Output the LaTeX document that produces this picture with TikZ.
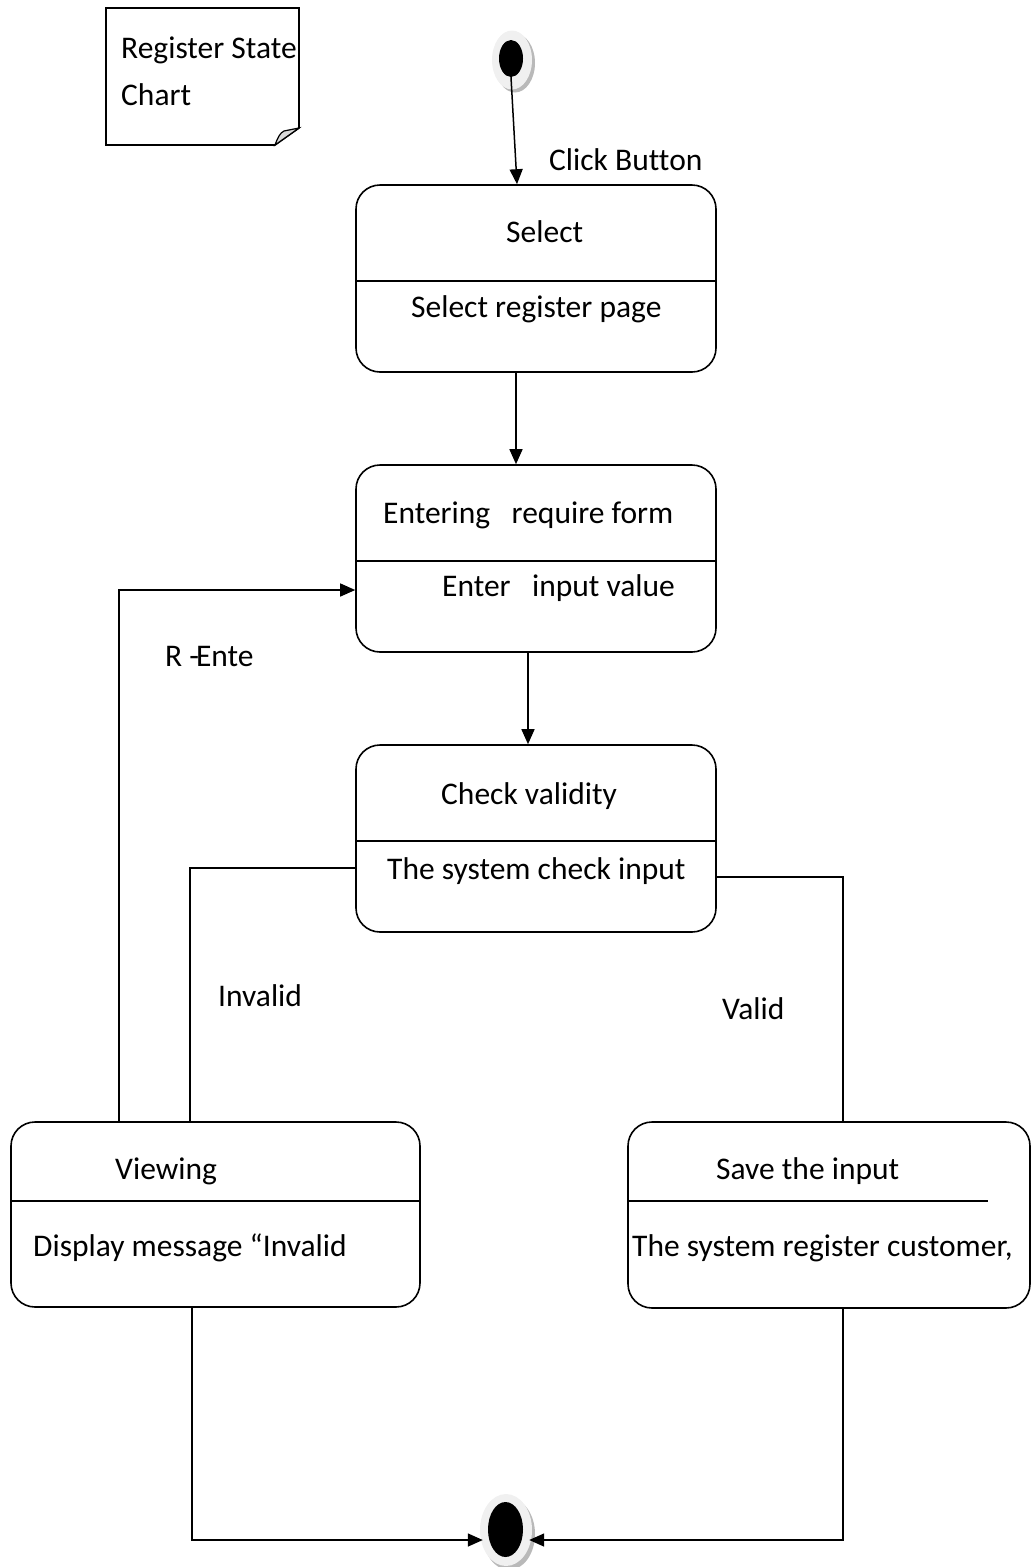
\documentclass[tikz,border=0pt]{standalone}
\usepackage{fontspec}
\setmainfont{Carlito}[Ligatures=NoCommon]
\usetikzlibrary{arrows.meta,calc,shapes.geometric}

\begin{document}
\begin{tikzpicture}[x=1pt,y=-1pt,
  statebox/.style={draw, line width=1.6pt, rounded corners=24pt, inner sep=0pt},
  lbl/.style={font=\fontsize{31.5}{38}\selectfont, inner sep=0pt, anchor=west,
              text height=20pt, text depth=0pt},
  wire/.style={line width=1.5pt},
  flow/.style={wire, -{Triangle[length=15pt,width=13pt]}},
  halo/.style={ellipse, fill=gray!12, inner sep=0pt},
  haloshade/.style={ellipse, fill=gray!55, inner sep=0pt},
  dot/.style={ellipse, fill=black, inner sep=0pt}]
\useasboundingbox (0,0) rectangle (1031,1567);

% note with folded corner
\draw[line width=1.6pt] (106,8) -- (299,8) -- (299,128) -- (275,145) -- (106,145) -- cycle;
\filldraw[fill=gray!30, line width=1.2pt] (275,145) .. controls (278,137) and (280,133) .. (284,131)
  -- (299,128) -- cycle;
\node[lbl] (notea) at (121,48) {Register State};
\node[lbl] (noteb) at (121,95) {Chart};

% initial pseudo state
\node[haloshade, minimum width=40pt, minimum height=59pt] (inishade) at (515,63) {};
\node[halo, minimum width=40pt, minimum height=59pt] (inihalo) at (512,60) {};
\node[dot, minimum width=24pt, minimum height=37pt] (ini) at (511,58.5) {};

% states
\node[statebox, minimum width=360pt, minimum height=187pt] (sel) at (536,278.5) {};
\draw[wire] (sel.west |- 0,281) -- (sel.east |- 0,281);
\node[lbl] (selname) at (506,232) {Select};
\node[lbl] (selact) at (411,307) {Select register page};

\node[statebox, minimum width=360pt, minimum height=187pt] (ent) at (536,558.5) {};
\draw[wire] (ent.west |- 0,561) -- (ent.east |- 0,561);
\node[lbl] (entname) at (383,513) {Entering~~~require form};
\node[lbl] (entact) at (442,586) {Enter~~~input value};

\node[statebox, minimum width=360pt, minimum height=187pt] (chk) at (536,838.5) {};
\draw[wire] (chk.west |- 0,841) -- (chk.east |- 0,841);
\node[lbl] (chkname) at (441,794) {Check validity};
\node[lbl] (chkact) at (387,869) {The system check input};

\node[statebox, minimum width=409pt, minimum height=185pt] (view) at (215.5,1214.5) {};
\draw[wire] (view.west |- 0,1201) -- (view.east |- 0,1201);
\node[lbl] (viewname) at (115,1169) {Viewing};
\node[lbl] (viewact) at (33,1246) {Display message “Invalid};

\node[statebox, minimum width=402pt, minimum height=186pt] (save) at (829,1215) {};
\draw[wire] (save.west |- 0,1201) -- (988,1201);
\node[lbl] (savename) at (716,1169) {Save the input};
\node[lbl] (saveact) at (632,1246) {The system register customer,};

% final pseudo state
\node[haloshade, minimum width=52pt, minimum height=72pt] (finshade) at (509,1534) {};
\node[halo, minimum width=52pt, minimum height=72pt] (finhalo) at (506,1530) {};
\node[dot, minimum width=35pt, minimum height=55pt] (fin) at (505.5,1529.5) {};

% transitions
\draw[flow] (ini.south) -- ($(sel.north)+(-19,0)$);
\node[lbl] (click) at (549,160) {Click Button};
\draw[flow] ($(sel.south)+(-20,0)$) -- ($(ent.north)+(-20,0)$);
\draw[flow] ($(ent.south)+(-8,0)$) -- ($(chk.north)+(-8,0)$);

\draw[wire] ($(chk.west)+(0,29.5)$) -| ($(view.north)+(-25.5,0)$);
\node[lbl] (invalid) at (218,996) {Invalid};
\draw[wire] ($(chk.east)+(0,38.5)$) -| ($(save.north)+(14,0)$);
\node[lbl] (valid) at (722,1009) {Valid};

\draw[flow] ($(view.north)+(-96.5,0)$) |- ($(ent.west)+(0,31.5)$);
\node[lbl] (reenter) at (165,656) {R -\kern-3pt Ente};

\draw[flow] ($(view.south)+(-23.5,0)$) |- ($(finhalo.west)+(3,10)$);
\draw[flow] ($(save.south)+(14,0)$) |- ($(finhalo.east)+(-3,10)$);
\end{tikzpicture}
\end{document}
